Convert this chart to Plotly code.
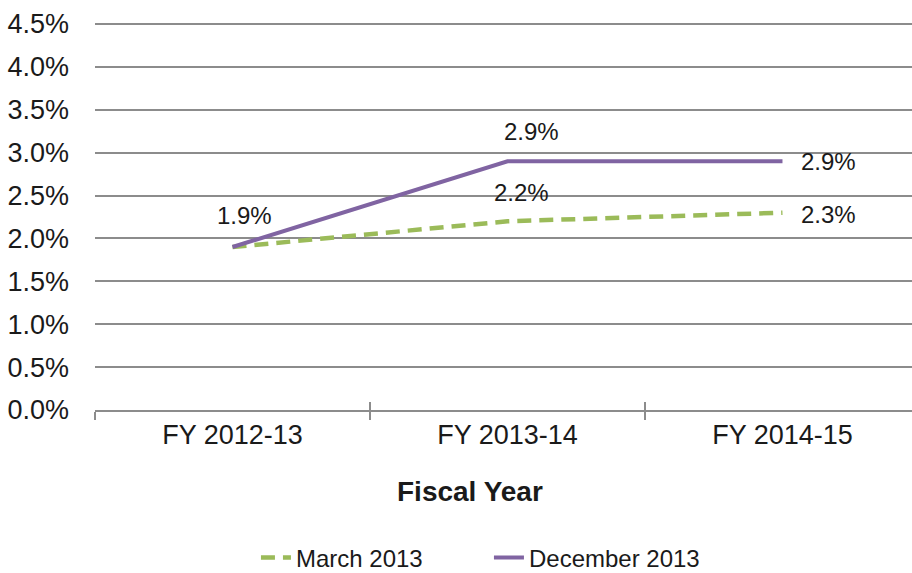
import plotly.graph_objects as go

categories = ["FY 2012-13", "FY 2013-14", "FY 2014-15"]
march_2013 = [1.9, 2.2, 2.3]
december_2013 = [1.9, 2.9, 2.9]
y_ticks = [0, 0.5, 1.0, 1.5, 2.0, 2.5, 3.0, 3.5, 4.0, 4.5]
y_tick_text = [f"{v:.1f}%" for v in y_ticks]

FONT = "Liberation Sans, Arial, sans-serif"
GREEN = "#9BBB59"
PURPLE = "#8064A2"
GRID = "#8c8c8c"
TXT = "#1a1a1a"

fig = go.Figure()
fig.add_trace(go.Scatter(x=categories, y=march_2013, mode="lines", name="March 2013",
                         line=dict(color=GREEN, width=4.5, dash="14px,8px")))
fig.add_trace(go.Scatter(x=categories, y=december_2013, mode="lines", name="December 2013",
                         line=dict(color=PURPLE, width=4)))
# helper (empty) trace so the overlay axis with inner tick marks is drawn
fig.add_trace(go.Scatter(x=categories, y=[None, None, None], xaxis="x2", showlegend=False,
                         hoverinfo="skip", mode="lines"))

# data labels: (series, index, xshift, yshift)
label_specs = [
    (december_2013, 0, 12, 32),
    (december_2013, 1, 24, 30),
    (march_2013, 1, 14, 29),
    (december_2013, 2, 46, 0),
    (march_2013, 2, 46, -2),
]
for series, i, xs, ys in label_specs:
    fig.add_annotation(x=categories[i], y=series[i], text=f"{series[i]:.1f}%",
                       showarrow=False, xshift=xs, yshift=ys,
                       font=dict(family=FONT, size=24, color=TXT))

fig.add_annotation(xref="paper", yref="paper", x=0.459, y=-0.21, yanchor="middle",
                   text="<b>Fiscal Year</b>", showarrow=False,
                   font=dict(family=FONT, size=28, color=TXT))

fig.update_layout(
    width=912, height=573,
    margin=dict(l=95, r=0, t=21, b=163, autoexpand=False),
    plot_bgcolor="white", paper_bgcolor="white",
    font=dict(family=FONT, size=24, color=TXT),
    showlegend=True,
    legend=dict(orientation="h", x=0.197, xanchor="left", y=-0.38, yanchor="middle",
                entrywidth=188, entrywidthmode="pixels",
                font=dict(family=FONT, size=24, color=TXT)),
    xaxis=dict(
        type="category", categoryarray=categories, range=[-0.5, 2.471],
        showgrid=False, showline=True, linecolor=GRID, linewidth=1.5,
        ticks="outside", tickson="boundaries", ticklen=8, tickwidth=1.5, tickcolor=GRID,
        tickfont=dict(family=FONT, size=27, color=TXT), automargin=False,
    ),
    xaxis2=dict(
        type="category", categoryarray=categories, range=[-0.5, 2.471],
        overlaying="x", side="bottom", anchor="y",
        showgrid=False, showline=False, showticklabels=False,
        ticks="inside", tickson="boundaries", ticklen=8, tickwidth=1.5, tickcolor=GRID,
        automargin=False,
    ),
    yaxis=dict(
        range=[0, 4.535], tickvals=y_ticks, ticktext=y_tick_text,
        showgrid=True, gridcolor=GRID, gridwidth=1.5, zeroline=False,
        showline=False, ticks="", ticklabelstandoff=25, automargin=False,
        tickfont=dict(family=FONT, size=27, color=TXT),
    ),
)

fig.write_html("out.html", config={"displayModeBar": False},
               post_script="document.body.style.margin='0px';document.body.style.padding='0px';")
